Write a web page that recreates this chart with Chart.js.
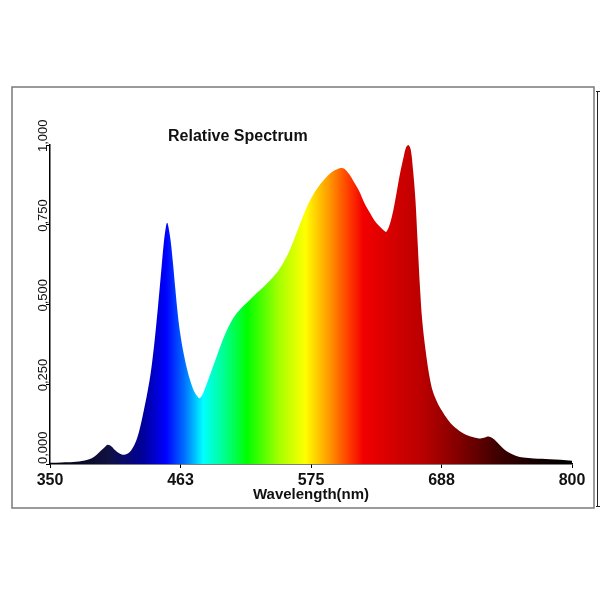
<!DOCTYPE html>
<html>
<head>
<meta charset="utf-8">
<script src="https://cdn.jsdelivr.net/npm/chart.js@4.4.1/dist/chart.umd.min.js"></script>
<style>
  html, body { margin: 0; padding: 0; background: #fff; }
  #wrap { width: 600px; height: 600px; position: relative; }
</style>
</head>
<body>
<div id="wrap"><canvas id="spec"></canvas></div>
<script>
// values
const wavelengths = [350, 360, 370, 380, 386, 390, 394, 398, 400, 403, 406, 410, 414, 418, 422, 425, 428, 431, 434, 437,
  440, 443, 446, 448, 450, 451, 452, 454, 456, 458, 460, 462, 465, 468, 471, 474, 477, 479, 482, 486,
  490, 494, 498, 502, 506, 510, 516, 522, 528, 534, 540, 546, 551, 556, 560, 564, 568, 572, 577, 582,
  586, 590, 594, 598, 601, 604, 608, 612, 617, 621, 626, 630, 634, 638, 640, 643, 646, 649, 652, 655,
  657, 659, 661, 663, 665, 667, 669, 671, 674, 677, 680, 684, 688, 693, 698, 704, 709, 715, 721, 725,
  728, 731, 735, 740, 744, 748, 752, 758, 767, 781, 790, 800]
const intensity = [0.004, 0.005, 0.006, 0.011, 0.018, 0.028, 0.042, 0.056, 0.060, 0.055, 0.044, 0.033, 0.029, 0.035, 0.055, 0.080, 0.120, 0.170, 0.225, 0.290,
  0.380, 0.490, 0.610, 0.690, 0.745, 0.756, 0.745, 0.700, 0.630, 0.550, 0.475, 0.415, 0.350, 0.300, 0.260, 0.230, 0.212, 0.206, 0.222, 0.260,
  0.300, 0.340, 0.380, 0.415, 0.445, 0.468, 0.493, 0.513, 0.535, 0.555, 0.577, 0.602, 0.630, 0.665, 0.700, 0.738, 0.775, 0.810, 0.845, 0.872,
  0.890, 0.906, 0.918, 0.925, 0.928, 0.925, 0.908, 0.884, 0.852, 0.818, 0.786, 0.762, 0.745, 0.731, 0.728, 0.752, 0.796, 0.855, 0.915, 0.965,
  0.993, 1.000, 0.985, 0.920, 0.830, 0.690, 0.550, 0.445, 0.350, 0.277, 0.228, 0.192, 0.166, 0.139, 0.118, 0.101, 0.091, 0.084, 0.080, 0.083,
  0.086, 0.082, 0.070, 0.051, 0.039, 0.031, 0.025, 0.020, 0.017, 0.015, 0.013, 0.010]

const xTicks = [350, 462.5, 575, 687.5, 800]
const yTicks = [0, 0.25, 0.5, 0.75, 1]

// colour of the fill along the wavelength axis
const specNm = [350, 400, 430, 450, 466, 482, 500, 520, 548, 570, 590, 608, 620, 650, 672, 700, 735, 770, 800]
const specCol = ['#000008', '#101040', '#00009a', '#0000ff', '#0070ff', '#00ffff', '#00ff90', '#00ff00', '#a8ff00', '#ffff00',
  '#ff9c00', '#ff3a00', '#f20000', '#d00000', '#b80000', '#860000', '#400000', '#120000', '#000000']

let points = []
for (let i = 0; i < wavelengths.length; i++) {
  points.push({ x: wavelengths[i], y: intensity[i] })
}

function spectrumFill(context) {
  let chart = context.chart
  let area = chart.chartArea
  if (!area) return '#888'
  let xs = chart.scales.x
  let g = chart.ctx.createLinearGradient(xs.getPixelForValue(350), 0, xs.getPixelForValue(800), 0)
  for (let i = 0; i < specNm.length; i++) {
    g.addColorStop((specNm[i] - 350) / 450, specCol[i])
  }
  return g
}

const framePlugin = {
  id: 'frame',
  afterDraw(chart) {
    let ctx = chart.ctx
    let ys = chart.scales.y
    ctx.save()
    // outer box
    ctx.strokeStyle = '#7a7a7a'
    ctx.lineWidth = 1.5
    ctx.strokeRect(12, 87, 582, 421)
    ctx.strokeStyle = '#222'
    ctx.lineWidth = 1
    ctx.beginPath()
    ctx.moveTo(597.5, 91); ctx.lineTo(597.5, 507)
    ctx.moveTo(596, 91.5); ctx.lineTo(600, 91.5)
    ctx.moveTo(596, 506.5); ctx.lineTo(600, 506.5)
    ctx.stroke()

    // title
    ctx.fillStyle = '#111'
    ctx.font = 'bold 16px "Liberation Sans", Arial, sans-serif'
    ctx.textAlign = 'left'
    ctx.textBaseline = 'alphabetic'
    ctx.fillText('Relative Spectrum', 168, 141)

    // rotated y labels
    ctx.font = '13px "Liberation Sans", Arial, sans-serif'
    for (let i = 0; i < yTicks.length; i++) {
      let v = yTicks[i]
      let py = ys.getPixelForValue(v)
      let start = i == 0 ? py : py + 7
      ctx.save()
      ctx.translate(46.5, start)
      ctx.rotate(-Math.PI / 2)
      ctx.fillText(v.toFixed(3).replace('.', ','), 0, 0)
      ctx.restore()
    }
    ctx.restore()
  }
}

new Chart(document.getElementById('spec'), {
  type: 'line',
  data: {
    datasets: [{
      data: points,
      fill: 'origin',
      backgroundColor: spectrumFill,
      borderWidth: 0,
      borderColor: 'rgba(0,0,0,0)',
      pointRadius: 0,
      tension: 0.35
    }]
  },
  options: {
    responsive: true,
    maintainAspectRatio: false,
    animation: false,
    layout: { padding: { left: 0, right: 28, top: 145, bottom: 96 } },
    plugins: { legend: { display: false }, tooltip: { enabled: false } },
    scales: {
      x: {
        type: 'linear',
        min: 350,
        max: 800,
        afterBuildTicks: (scale) => { scale.ticks = xTicks.map(v => ({ value: v })) },
        afterFit: (scale) => { scale.height = 40 },
        border: { display: true, color: '#000', width: 1.5 },
        grid: { drawOnChartArea: false, drawTicks: true, tickLength: 4, color: '#000' },
        ticks: {
          padding: 3,
          color: '#111',
          font: { family: '"Liberation Sans", Arial, sans-serif', size: 16, weight: 'bold' },
          maxRotation: 0,
          callback: (v) => Math.round(v).toString()
        },
        title: {
          display: true,
          text: 'Wavelength(nm)',
          color: '#111',
          font: { family: '"Liberation Sans", Arial, sans-serif', size: 15, weight: 'bold' },
          padding: { top: 0, bottom: 0 }
        }
      },
      y: {
        min: 0,
        max: 1,
        afterBuildTicks: (scale) => { scale.ticks = yTicks.map(v => ({ value: v })) },
        afterFit: (scale) => { scale.width = 50 },
        border: { display: true, color: '#000', width: 1.5 },
        grid: { drawOnChartArea: false, drawTicks: true, tickLength: 4, color: '#000' },
        ticks: { display: false }
      }
    }
  },
  plugins: [framePlugin]
})
</script>
</body>
</html>
